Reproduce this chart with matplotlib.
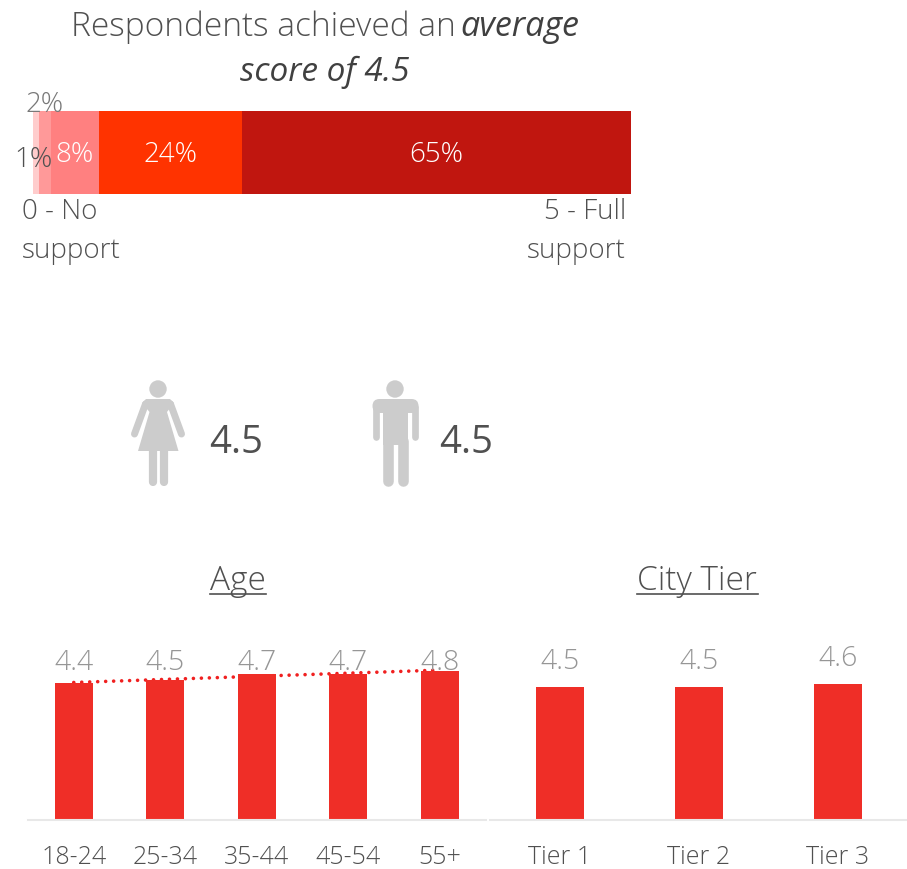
import numpy as np
import matplotlib
matplotlib.use("Agg")
import matplotlib.pyplot as plt
from matplotlib.patches import Circle, Polygon, FancyBboxPatch, Rectangle

plt.rcParams['font.family'] = ['Open Sans', 'DejaVu Sans']

W, H = 907, 870

# score distribution
dist_labels = ["1%", "2%", "8%", "24%", "65%"]
dist_values = [1, 2, 8, 24, 65]
dist_colors = ["#FFCCCC", "#FF9999", "#FF8080", "#FF3300", "#C0160F"]

# gender scores
gender_scores = ["4.5", "4.5"]

# age chart
age_groups = ["18-24", "25-34", "35-44", "45-54", "55+"]
age_scores = [4.4, 4.5, 4.7, 4.7, 4.8]

# city tier chart
tiers = ["Tier 1", "Tier 2", "Tier 3"]
tier_scores = [4.5, 4.5, 4.6]

RED = "#EF2E27"
DARK = "#505050"
GREY = "#969696"
AXIS = "#E8E8E8"
ICON = "#CCCCCC"


def add_axes_px(fig, left, top, right, bottom):
    # axes placed in pixels, counted from the top left corner
    return fig.add_axes([left / W, 1 - bottom / H, (right - left) / W, (bottom - top) / H])


fig = plt.figure(figsize=(W / 100, H / 100), dpi=100, facecolor="white")

# stacked bar at the top
ax0 = add_axes_px(fig, 33, 111.5, 631, 194.5)
left = 0
for i, v in enumerate(dist_values):
    ax0.barh(0, v, left=left, height=1, color=dist_colors[i])
    mid = left + v / 2
    if i == 0:
        ax0.annotate(dist_labels[i], (mid, 0), xytext=(-2.5, -7), textcoords="offset pixels",
                     ha="center", va="center", fontsize=20, color=DARK, fontweight="light",
                     annotation_clip=False)
    elif i == 1:
        ax0.annotate(dist_labels[i], (mid, 0.5), xytext=(0, 7), textcoords="offset pixels",
                     ha="center", va="center", fontsize=20, color="#787878", fontweight="light",
                     annotation_clip=False)
    else:
        ax0.annotate(dist_labels[i], (mid, 0), xytext=(0, -2), textcoords="offset pixels",
                     ha="center", va="center", fontsize=20, color="white", fontweight="light")
    left += v
ax0.set_xlim(0, 100)
ax0.set_ylim(-0.5, 0.5)
ax0.axis("off")

# age bars with linear trend
ax1 = add_axes_px(fig, 28, 640, 485.5, 820.5)
x1 = np.arange(len(age_groups))
slope, icpt = np.polyfit(x1, age_scores, 1)
ax1.plot(x1, slope * x1 + icpt, color="#F02020", linestyle=(0, (0.01, 2.2)), linewidth=2.6,
         dash_capstyle="round", zorder=1)
ax1.bar(x1, age_scores, width=0.42, color=RED, zorder=2)
for x, v in zip(x1, age_scores):
    ax1.text(x, 0.875, f"{v:.1f}", transform=ax1.get_xaxis_transform(), ha="center", va="center")
ax1.set_ylim(0, 180.5 / 31)

# city tier bars
ax2 = add_axes_px(fig, 490.5, 640, 907.5, 820.5)
x2 = np.arange(len(tiers))
ax2.bar(x2, tier_scores, width=0.35, color=RED, zorder=2)
for x, v in zip(x2, tier_scores):
    ax2.annotate(f"{v:.1f}", (x, v), xytext=(0, 26), textcoords="offset pixels",
                 ha="center", va="center")
ax2.set_ylim(0, 180.5 / 29.5)

for ax, labels in ((ax1, age_groups), (ax2, tiers)):
    ax.set_xlim(-0.5, len(labels) - 0.5)
    ax.set_xticks(range(len(labels)))
    ax.set_xticklabels(labels, fontsize=18, color=DARK, fontweight="light")
    ax.set_yticks([])
    ax.tick_params(axis="x", length=0, pad=17.8)
    for s in ("top", "left", "right"):
        ax.spines[s].set_visible(False)
    ax.spines["bottom"].set_color(AXIS)
    ax.spines["bottom"].set_linewidth(1.5)
    for t in ax.texts:
        t.set_fontsize(20.5)
        t.set_color(GREY)
        t.set_fontweight("light")

# page level layer for titles and figures
bg = fig.add_axes([0, 0, 1, 1], zorder=5)
bg.set_xlim(0, W)
bg.set_ylim(H, 0)
bg.axis("off")
bg.patch.set_alpha(0)

bg.text(71, 27, "Respondents achieved an", fontsize=24, color=DARK, va="center", ha="left", fontweight="light")
bg.text(460, 27, "average", fontsize=24.5, color="#404040", style="italic", va="center", ha="left")
bg.text(325, 72, "score of 4.5", fontsize=24, color="#404040", style="italic", va="center", ha="center")

bg.text(22, 212, "0 - No", fontsize=20, color=DARK, va="center", ha="left", fontweight="light")
bg.text(22, 251, "support", fontsize=20, color=DARK, va="center", ha="left", fontweight="light")
bg.text(626, 212, "5 - Full", fontsize=20, color=DARK, va="center", ha="right", fontweight="light")
bg.text(626, 251, "support", fontsize=20, color=DARK, va="center", ha="right", fontweight="light")

bg.text(238, 581, "Age", fontsize=24, color=DARK, va="center", ha="center", fontweight="light")
bg.plot([210, 266], [595, 595], color=DARK, lw=1.2)
bg.text(697, 581, "City Tier", fontsize=24, color=DARK, va="center", ha="center", fontweight="light")
bg.plot([637, 758], [595, 595], color=DARK, lw=1.2)

bg.text(209, 443, gender_scores[0], fontsize=27.5, color="#505050", va="center", ha="left")
bg.text(439, 443, gender_scores[1], fontsize=27.5, color="#505050", va="center", ha="left")


def limb(xs, ys, width):
    # rounded limb, width given in pixels
    bg.plot(xs, ys, color=ICON, lw=width * 0.72, solid_capstyle="round")


# woman
bg.add_patch(Circle((158, 390), 8.7, color=ICON, lw=0))
bg.add_patch(Polygon([(146, 400), (170, 400), (174, 404), (167, 413), (178.5, 452), (138, 452), (149.5, 413), (142, 404)],
                     closed=True, color=ICON, lw=0))
limb([145.5, 134.5], [405, 435], 7)
limb([170.5, 181.5], [405, 435], 7)
limb([152.5, 152.5], [452, 483], 8.2)
limb([164, 164], [452, 483], 8.2)

# man
bg.add_patch(Circle((395, 390), 8.7, color=ICON, lw=0))
bg.add_patch(FancyBboxPatch((372.5, 400), 46, 14, boxstyle="round,pad=0,rounding_size=7", color=ICON, lw=0))
bg.add_patch(Rectangle((382.7, 405), 25, 41, color=ICON, lw=0))
limb([375.7, 375.7], [408, 438], 6.7)
limb([415, 415], [408, 438], 6.7)
limb([388, 388], [442, 482], 10.6)
limb([402.5, 402.5], [442, 482], 10.6)

fig.savefig("out.png", dpi=100)
